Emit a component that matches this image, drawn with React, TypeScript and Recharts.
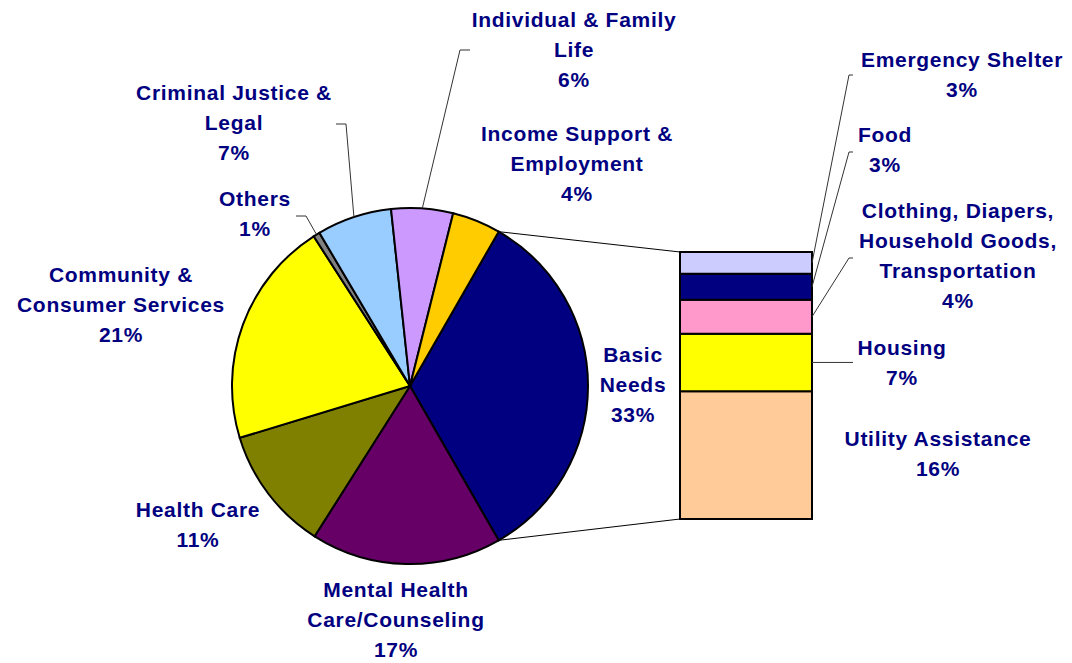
import { PieChart, Pie, Cell, BarChart, Bar, XAxis, YAxis } from 'recharts';

const W = 1072;
const H = 663;

// main pie
const categories = [
  'Basic Needs',
  'Mental Health Care/Counseling',
  'Health Care',
  'Community & Consumer Services',
  'Others',
  'Criminal Justice & Legal',
  'Individual & Family Life',
  'Income Support & Employment',
];
const categoryLines = [
  ['Basic', 'Needs'],
  ['Mental Health', 'Care/Counseling'],
  ['Health Care'],
  ['Community &', 'Consumer Services'],
  ['Others'],
  ['Criminal Justice &', 'Legal'],
  ['Individual & Family', 'Life'],
  ['Income Support &', 'Employment'],
];
const shares = [33.4, 17.3, 11.3, 20.6, 0.6, 6.8, 5.6, 4.4];
const colors = ['#000080', '#660066', '#808000', '#FFFF00', '#808080', '#99CCFF', '#CC99FF', '#FFCC00'];

// breakdown of Basic Needs (bottom to top)
const subCategories = ['Utility Assistance', 'Housing', 'Clothing, Diapers, Household Goods, Transportation', 'Food', 'Emergency Shelter'];
const subLines = [
  ['Utility Assistance'],
  ['Housing'],
  ['Clothing, Diapers,', 'Household Goods,', 'Transportation'],
  ['Food'],
  ['Emergency Shelter'],
];
const subShares = [15.8, 7.1, 4.2, 3.2, 2.7];
const subColors = ['#FFCC99', '#FFFF00', '#FF99CC', '#000080', '#CCCCFF'];

// layout
const PIE_CX = 410;
const PIE_CY = 386;
const PIE_R = 178;
const BAR_LEFT = 680;
const BAR_RIGHT = 812;
const BAR_TOP = 252;
const BAR_BOTTOM = 519;
const LINE_H = 30;
const TEXT = '#000080';
const RAD = Math.PI / 180;

// label anchor: centre x, first baseline, optional leader tick
const pieLabelPos: Record<string, { x: number; y: number; tick?: [number, number, number] }> = {
  'Basic Needs': { x: 633, y: 362 },
  'Mental Health Care/Counseling': { x: 396, y: 597 },
  'Health Care': { x: 198, y: 517 },
  'Community & Consumer Services': { x: 121, y: 282 },
  'Others': { x: 255, y: 206, tick: [296, 306, 216] },
  'Criminal Justice & Legal': { x: 234, y: 100, tick: [336, 346, 124] },
  'Individual & Family Life': { x: 574, y: 27, tick: [470, 460, 50] },
  'Income Support & Employment': { x: 577, y: 141 },
};

const subLabelPos: Record<string, { x: number; y: number; tick?: [number, number, number] | 'mid' }> = {
  'Utility Assistance': { x: 938, y: 446 },
  'Housing': { x: 902, y: 355, tick: 'mid' },
  'Clothing, Diapers, Household Goods, Transportation': { x: 958, y: 218, tick: [853, 849, 258] },
  'Food': { x: 885, y: 142, tick: [853, 849, 152] },
  'Emergency Shelter': { x: 962, y: 67, tick: [853, 849, 75] },
};

const pieData = categories.map((name, i) => ({ name, value: shares[i] }));
const barRow: Record<string, string | number> = { name: 'Basic Needs' };
subShares.forEach((v, i) => {
  barRow[`s${i}`] = v;
});
const barData = [barRow];
const subTotal = subShares.reduce((a, b) => a + b, 0);

const pct = (v: number) => `${Math.round(v)}%`;

const Lines = ({ x, y, lines }: { x: number; y: number; lines: string[] }) => (
  <text
    x={x}
    y={y}
    textAnchor="middle"
    fill={TEXT}
    fontFamily="'Liberation Sans', Arial, sans-serif"
    fontWeight="bold"
    fontSize={21}
    letterSpacing={0.7}
  >
    {lines.map((l, i) => (
      <tspan key={i} x={x} dy={i === 0 ? 0 : LINE_H}>
        {l}
      </tspan>
    ))}
  </text>
);

const polar = (cx: number, cy: number, r: number, angle: number) => ({
  x: cx + r * Math.cos(-angle * RAD),
  y: cy + r * Math.sin(-angle * RAD),
});

const renderPieLabel = (props: any) => {
  const { index, cx, cy, outerRadius, midAngle, startAngle, endAngle, value } = props;
  const name = categories[index];
  const pos = pieLabelPos[name];
  const lines = [...categoryLines[index], pct(value)];
  let leader = null;
  if (pos.tick) {
    const [x1, x2, ty] = pos.tick;
    const p = polar(cx, cy, outerRadius, midAngle);
    leader = (
      <polyline points={`${x1},${ty} ${x2},${ty} ${p.x},${p.y}`} fill="none" stroke="#333" strokeWidth={1} />
    );
  }
  let connectors = null;
  if (index === 0) {
    const a = polar(cx, cy, outerRadius, startAngle);
    const b = polar(cx, cy, outerRadius, endAngle);
    connectors = (
      <g stroke="#000" strokeWidth={1}>
        <line x1={a.x} y1={a.y} x2={BAR_LEFT} y2={BAR_TOP} />
        <line x1={b.x} y1={b.y} x2={BAR_LEFT} y2={BAR_BOTTOM} />
      </g>
    );
  }
  return (
    <g key={`pl-${index}`}>
      {connectors}
      {leader}
      <Lines x={pos.x} y={pos.y} lines={lines} />
    </g>
  );
};

const makeSubLabel = (i: number) => (props: any) => {
  const vb = props.viewBox ?? props;
  const { x, y, width, height } = vb;
  const name = subCategories[i];
  const pos = subLabelPos[name];
  const midY = y + height / 2;
  const right = x + width;
  let leader = null;
  if (pos.tick === 'mid') {
    leader = <line x1={right} y1={midY} x2={853} y2={midY} stroke="#333" strokeWidth={1} />;
  } else if (pos.tick) {
    const [x1, x2, ty] = pos.tick;
    leader = (
      <polyline points={`${x1},${ty} ${x2},${ty} ${right},${midY}`} fill="none" stroke="#333" strokeWidth={1} />
    );
  }
  return (
    <g>
      {leader}
      <Lines x={pos.x} y={pos.y} lines={[...subLines[i], pct(subShares[i])]} />
    </g>
  );
};

const startAngle = (shares[0] / shares.reduce((a, b) => a + b, 0)) * 180;

export default function App() {
  return (
    <div style={{ position: 'absolute', left: 0, top: 0, width: W, height: H, background: '#fff' }}>
      <div style={{ position: 'absolute', left: 0, top: 0 }}>
        <PieChart width={W} height={H} margin={{ top: 0, right: 0, bottom: 0, left: 0 }}>
          <Pie
            data={pieData}
            dataKey="value"
            nameKey="name"
            cx={PIE_CX}
            cy={PIE_CY}
            outerRadius={PIE_R}
            startAngle={startAngle}
            endAngle={startAngle - 360}
            stroke="#000"
            strokeWidth={2}
            label={renderPieLabel}
            labelLine={false}
            isAnimationActive={false}
          >
            {pieData.map((d, i) => (
              <Cell key={d.name} fill={colors[i]} />
            ))}
          </Pie>
        </PieChart>
      </div>
      <div style={{ position: 'absolute', left: 0, top: 0 }}>
        <BarChart
          width={W}
          height={H}
          data={barData}
          barCategoryGap={0}
          margin={{ top: BAR_TOP, right: W - BAR_RIGHT, bottom: H - BAR_BOTTOM, left: BAR_LEFT }}
        >
          <XAxis dataKey="name" type="category" hide />
          <YAxis type="number" domain={[0, subTotal]} hide />
          {subCategories.map((c, i) => (
            <Bar
              key={c}
              dataKey={`s${i}`}
              stackId="basic"
              fill={subColors[i]}
              stroke="#000"
              strokeWidth={2}
              label={makeSubLabel(i)}
              isAnimationActive={false}
            />
          ))}
        </BarChart>
      </div>
    </div>
  );
}
